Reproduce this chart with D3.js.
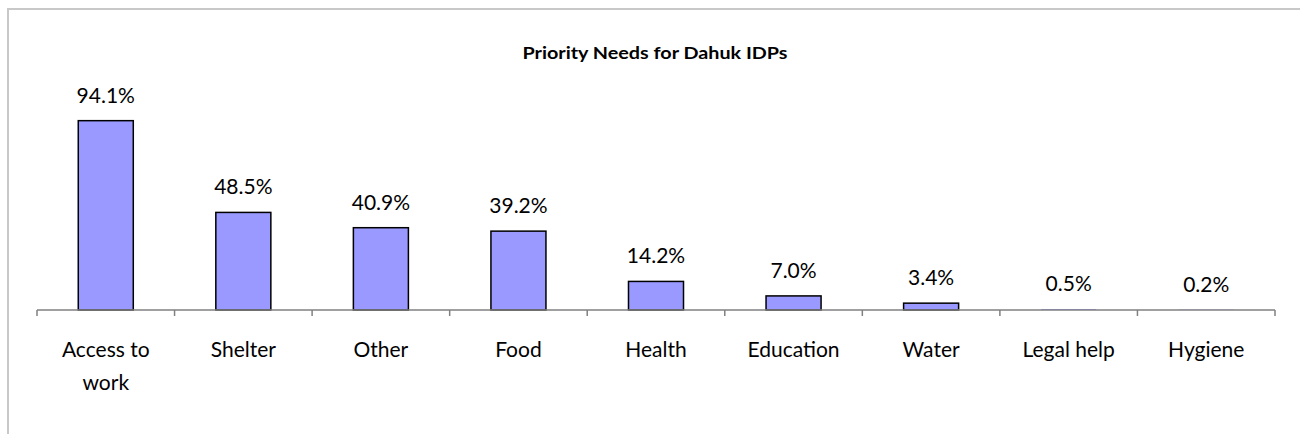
<!DOCTYPE html>
<html>
<head>
<meta charset="utf-8">
<script src="https://cdn.jsdelivr.net/npm/d3@7"></script>
<style>
  html, body { margin: 0; padding: 0; background: #fff; }
  svg { display: block; }
</style>
</head>
<body>
<svg id="chart"></svg>
<script>
const categories = ["Access to work", "Shelter", "Other", "Food", "Health", "Education", "Water", "Legal help", "Hygiene"];
const values = [94.1, 48.5, 40.9, 39.2, 14.2, 7.0, 3.4, 0.5, 0.2];
const title = "Priority Needs for Dahuk IDPs";

const width = 1300, height = 434;
const svg = d3.select("#chart").attr("width", width).attr("height", height);
const font = "Lato, 'Open Sans', sans-serif";

// chart frame
svg.append("rect")
  .attr("x", 8).attr("y", 9)
  .attr("width", 1310).attr("height", 440)
  .attr("fill", "none")
  .attr("stroke", "#c8c8c8")
  .attr("stroke-width", 2);

const x = d3.scaleBand().domain(categories).range([37, 1275]).paddingInner(0.6).paddingOuter(0.3);
const y = d3.scaleLinear().domain([0, 100]).range([310, 108.8]);

svg.append("text")
  .attr("x", 655).attr("y", 59)
  .attr("text-anchor", "middle")
  .attr("font-family", font)
  .attr("font-weight", "700")
  .attr("font-size", "17px")
  .attr("textLength", 265)
  .attr("lengthAdjust", "spacingAndGlyphs")
  .text(title);

// bars (very small ones disappear under the axis, as in the original)
svg.append("g").selectAll("rect")
  .data(values).join("rect")
  .attr("x", (d, i) => x(categories[i]))
  .attr("y", d => y(d))
  .attr("width", x.bandwidth())
  .attr("height", d => y(0) - y(d))
  .attr("fill", "#9999ff")
  .attr("stroke", d => y(0) - y(d) > 2 ? "#000" : "none")
  .attr("stroke-width", 1.5);

// value labels
svg.append("g").selectAll("text")
  .data(values).join("text")
  .attr("x", (d, i) => x(categories[i]) + x.bandwidth() / 2)
  .attr("y", d => y(d) - 18)
  .attr("text-anchor", "middle")
  .attr("font-family", font)
  .attr("font-size", "21px")
  .text(d => d.toFixed(1) + "%");

// x axis
const step = x.step();
const axis = svg.append("g").attr("stroke", "#808080").attr("stroke-width", 1.5);
axis.append("line").attr("x1", 37).attr("x2", 1275).attr("y1", 310).attr("y2", 310);
axis.selectAll("line.tick")
  .data(d3.range(categories.length + 1)).join("line")
  .attr("class", "tick")
  .attr("x1", i => 37 + i * step).attr("x2", i => 37 + i * step)
  .attr("y1", 310).attr("y2", 316);

// category labels (wrapped like the original)
const lines = c => c === "Access to work" ? ["Access to", "work"] : [c];
svg.append("g").selectAll("text")
  .data(categories).join("text")
  .attr("x", c => x(c) + x.bandwidth() / 2)
  .attr("y", 357)
  .attr("text-anchor", "middle")
  .attr("font-family", font)
  .attr("font-size", "21px")
  .each(function(c) {
    lines(c).forEach((t, k) => {
      d3.select(this).append("tspan")
        .attr("x", x(c) + x.bandwidth() / 2)
        .attr("dy", k === 0 ? 0 : 33)
        .text(t);
    });
  });
</script>
</body>
</html>
